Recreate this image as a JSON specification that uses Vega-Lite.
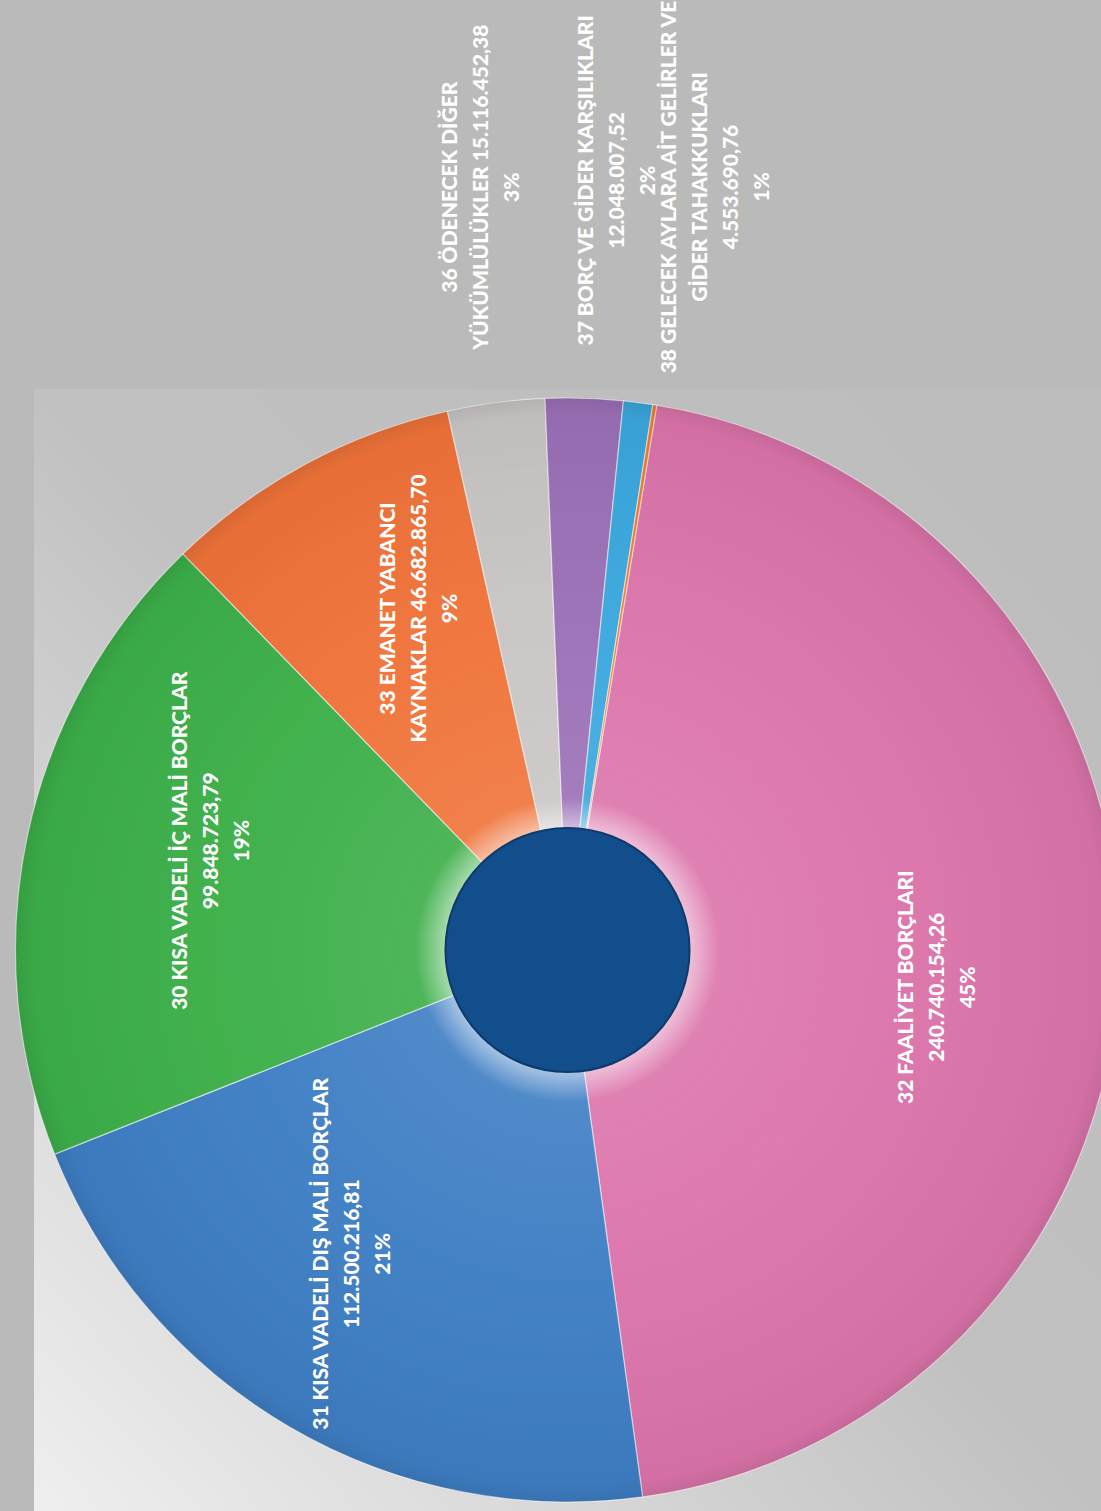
{
  "$schema": "https://vega.github.io/schema/vega-lite/v6.json",
  "autosize": "none",
  "width": 1067,
  "height": 1122,
  "padding": {"left": 34, "top": 389, "right": 0, "bottom": 0},
  "background": "#bababa",
  "config": {"view": {"stroke": null}},
  "data": {
    "values": [
      {"kod": "32", "tutar": 240740154.26, "sira": 1, "etiket": ["32 FAALİYET BORÇLARI", "240.740.154,26", "45%"]},
      {"kod": "31", "tutar": 112500216.81, "sira": 2, "etiket": ["31 KISA VADELİ DIŞ MALİ BORÇLAR", "112.500.216,81", "21%"]},
      {"kod": "30", "tutar": 99848723.79, "sira": 3, "etiket": ["30 KISA VADELİ İÇ MALİ BORÇLAR", "99.848.723,79", "19%"]},
      {"kod": "33", "tutar": 46682865.70, "sira": 4, "etiket": ["33 EMANET YABANCI", "KAYNAKLAR 46.682.865,70", "9%"]},
      {"kod": "36", "tutar": 15116452.38, "sira": 5, "etiket": ["36 ÖDENECEK DİĞER", "YÜKÜMLÜLÜKLER 15.116.452,38", "3%"]},
      {"kod": "37", "tutar": 12048007.52, "sira": 6, "etiket": ["37 BORÇ VE GİDER KARŞILIKLARI", "12.048.007,52", "2%"]},
      {"kod": "38", "tutar": 4553690.76, "sira": 7, "etiket": ["38 GELECEK AYLARA AİT GELİRLER VE", "GİDER TAHAKKUKLARI", "4.553.690,76", "1%"]},
      {"kod": "39", "tutar": 600000, "sira": 8, "etiket": [""]}
    ]
  },
  "resolve": {"scale": {"theta": "independent"}},
  "layer": [
    {
      "data": {"values": [{"parca": "zemin"}]},
      "mark": {
        "type": "rect",
        "color": {
          "gradient": "linear",
          "x1": 1, "y1": 0, "x2": 0, "y2": 1,
          "stops": [
            {"offset": 0, "color": "#bcbcbc"},
            {"offset": 0.5, "color": "#c1c1c1"},
            {"offset": 1, "color": "#efefef"}
          ]
        }
      },
      "encoding": {}
    },
    {
      "mark": {"type": "arc", "outerRadius": 552, "innerRadius": 118, "stroke": "#ffffff", "strokeWidth": 1.2, "strokeOpacity": 0.55},
      "encoding": {
        "theta": {"field": "tutar", "type": "quantitative", "stack": true, "scale": {"range": [0.1623, 6.4455]}},
        "order": {"field": "sira", "type": "quantitative"},
        "color": {
          "field": "kod", "type": "nominal", "legend": null,
          "scale": {
            "domain": ["30", "31", "32", "33", "36", "37", "38", "39"],
            "range": ["#3caf49", "#3e7ec4", "#dc74ab", "#f07339", "#c9c5c5", "#9b70b7", "#3aa7dd", "#f07a2a"]
          }
        }
      }
    },
    {
      "data": {"values": [{"parca": "golge"}]},
      "mark": {
        "type": "arc", "theta": 0, "theta2": 6.2832, "outerRadius": 552, "innerRadius": 118,
        "fill": {
          "gradient": "radial", "x1": 0.5, "y1": 0.5, "r1": 0.107, "x2": 0.5, "y2": 0.5, "r2": 0.5,
          "stops": [
            {"offset": 0, "color": "rgba(255,255,255,0.10)"},
            {"offset": 0.5, "color": "rgba(255,255,255,0.03)"},
            {"offset": 0.96, "color": "rgba(0,0,0,0.04)"},
            {"offset": 1, "color": "rgba(0,0,0,0.10)"}
          ]
        }
      },
      "encoding": {}
    },
    {
      "data": {"values": [{"parca": "hale"}]},
      "mark": {
        "type": "arc", "theta": 0, "theta2": 6.2832, "outerRadius": 152, "innerRadius": 116,
        "fill": {
          "gradient": "radial", "x1": 0.5, "y1": 0.5, "r1": 0.38, "x2": 0.5, "y2": 0.5, "r2": 0.5,
          "stops": [
            {"offset": 0, "color": "rgba(255,255,255,0.6)"},
            {"offset": 1, "color": "rgba(255,255,255,0)"}
          ]
        }
      },
      "encoding": {}
    },
    {
      "data": {"values": [{"parca": "merkez"}]},
      "mark": {"type": "arc", "theta": 0, "theta2": 6.2832, "outerRadius": 122, "innerRadius": 0, "fill": "#134e8c", "stroke": "#0d3a6b", "strokeWidth": 2},
      "encoding": {}
    },
    {
      "mark": {"type": "text", "radius": 372, "angle": 270, "align": "center", "baseline": "middle", "dy": -31, "font": "Lato", "fontSize": 21, "fontWeight": 900, "lineHeight": 31, "color": "#ffffff"},
      "encoding": {
        "theta": {"field": "tutar", "type": "quantitative", "stack": true, "scale": {"range": [0.2496, 6.5328]}},
        "order": {"field": "sira", "type": "quantitative"},
        "text": {"condition": {"test": "datum.tutar > 40000000", "field": "etiket"}, "value": ""}
      }
    },
    {
      "mark": {"type": "text", "radius": 850, "angle": 270, "align": "center", "baseline": "middle", "dx": -80, "dy": -6, "font": "Lato", "fontSize": 21, "fontWeight": 900, "lineHeight": 31, "color": "#ffffff"},
      "encoding": {
        "theta": {"field": "tutar", "type": "quantitative", "stack": true, "scale": {"range": [0.1623, 6.4455]}},
        "order": {"field": "sira", "type": "quantitative"},
        "text": {"condition": {"test": "datum.tutar <= 40000000", "field": "etiket"}, "value": ""}
      }
    }
  ]
}
